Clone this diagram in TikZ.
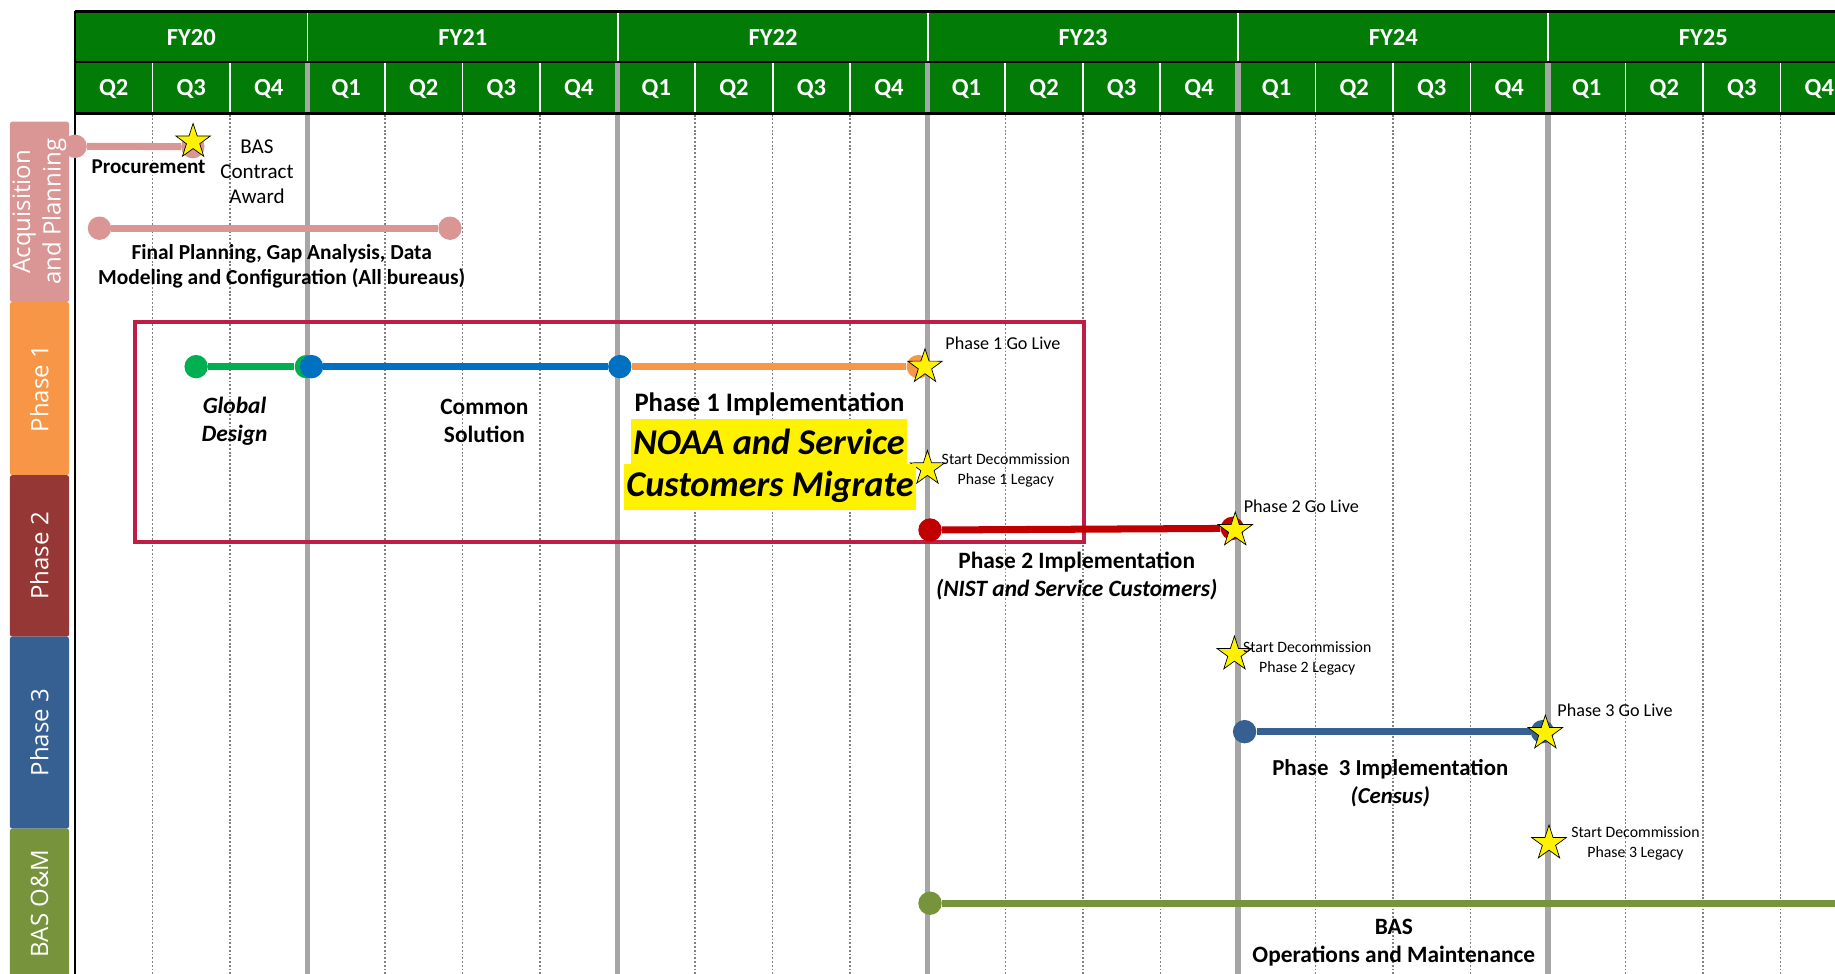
\documentclass[tikz,border=0pt]{standalone}
\usepackage{fontspec}
\setmainfont{Carlito}
\newfontfamily\sidefont{Open Sans}
\usepackage{tikz}
\usetikzlibrary{shapes.geometric}

\definecolor{hdrgreen}{RGB}{3,123,7}
\definecolor{acqpink}{RGB}{217,150,148}
\definecolor{ph1orange}{RGB}{247,150,70}
\definecolor{ph2red}{RGB}{149,55,53}
\definecolor{ph3blue}{RGB}{54,96,146}
\definecolor{omgreen}{RGB}{119,147,60}
\definecolor{gdgreen}{RGB}{0,176,80}
\definecolor{csblue}{RGB}{0,112,192}
\definecolor{p2red}{RGB}{192,0,0}
\definecolor{boxred}{RGB}{190,30,69}
\definecolor{yeargray}{RGB}{166,166,166}
\definecolor{qgray}{RGB}{128,128,128}

\begin{document}
\begin{tikzpicture}[x=1pt,y=-1pt,inner sep=0pt]
  \tikzstyle{endpt}=[circle,minimum size=20pt]
  \tikzstyle{mstar}=[star,star points=5,star point ratio=2.6,minimum size=31pt,
                     fill=yellow,draw=black,line width=0.6pt]
  \tikzstyle{barline}=[line width=6pt]
  \tikzstyle{sidebox}=[rotate=90,minimum height=50.5pt,rounded corners=2pt,align=center,
                       text=white,font=\sidefont\fontsize{20.5}{26}\selectfont]
  \tikzstyle{hdr}=[text=white,font=\bfseries\fontsize{21}{25}\selectfont]
  \tikzstyle{lbl}=[align=center,font=\bfseries\fontsize{20}{24}\selectfont]
  \tikzstyle{golive}=[font=\fontsize{15.5}{19}\selectfont]
  \tikzstyle{decom}=[align=center,font=\fontsize{13.5}{17}\selectfont]
  \tikzstyle{hilite}=[fill=yellow,inner xsep=2pt,minimum height=39pt,
                      font=\bfseries\itshape\fontsize{31}{36}\selectfont]

  \useasboundingbox (0,0) rectangle (1568,832);

  \fill[hdrgreen] (64,10) rectangle (1580,97);
  \foreach \k in {1,...,22}
    \draw[white,line width=1.5pt] (64+66.25*\k,54) -- (64+66.25*\k,96);
  \foreach \k in {3,7,11,15,19}
    \draw[white,line width=1.5pt] (64+66.25*\k,11) -- (64+66.25*\k,53);
  \foreach \k in {1,2,4,5,6,8,9,10,12,13,14,16,17,18,20,21,22}
    \draw[qgray,line width=1.3pt,dash pattern=on 1.6pt off 1.6pt] (64+66.25*\k,98) -- (64+66.25*\k,840);
  \foreach \k in {3,7,11,15,19}
    \draw[yeargray,line width=4.5pt] (64+66.25*\k,53) -- (64+66.25*\k,840);
  \draw[line width=2.5pt] (64,10) -- (1580,10);
  \draw[line width=2pt] (64,53) -- (1580,53);
  \draw[line width=2.5pt] (64,97) -- (1580,97);
  \draw[line width=2pt] (64,9) -- (64,840);

  \foreach \n/\c in {20/163.5,21/395.5,22/660.5,23/925.5,24/1190.5,25/1455.5}
    \node[hdr] (fy\n) at (\c,32) {FY\n};
  \foreach \k in {0,...,22}{
    \pgfmathtruncatemacro\q{mod(\k+1,4)+1}
    \node[hdr] (q\k) at (64+66.25*\k+33.125,76) {Q\q};
  }

  \draw[boxred,line width=3.5pt] (115,275) rectangle (926.6,463);

  \node[endpt,fill=acqpink]   (a0) at (64.2,125)     {};
  \node[endpt,fill=acqpink]   (a1) at (164.8,125.3)  {};
  \node[endpt,fill=acqpink]   (a2) at (85,195)       {};
  \node[endpt,fill=acqpink]   (a3) at (384.5,195)    {};
  \node[endpt,fill=gdgreen]   (g0) at (167.6,313.3)  {};
  \node[endpt,fill=gdgreen]   (g1) at (261.8,313.3)  {};
  \node[endpt,fill=csblue]    (b0) at (266.2,313.3)  {};
  \node[endpt,fill=csblue]    (b1) at (529.6,313.3)  {};
  \node[endpt,fill=ph1orange] (o1) at (784.7,313.3)  {};
  \node[endpt,fill=p2red]     (r0) at (794.7,452.9)  {};
  \node[endpt,fill=p2red]     (r1) at (1053,451.5)   {};
  \node[endpt,fill=ph3blue]   (t0) at (1063.5,625.2) {};
  \node[endpt,fill=ph3blue]   (t1) at (1318,625.2)   {};
  \node[endpt,fill=omgreen]   (m0) at (794.7,771.8)  {};
  \coordinate (m1) at (1580,771.8);

  \path (a0) edge[barline,acqpink]   (a1)
        (a2) edge[barline,acqpink]   (a3)
        (g0) edge[barline,gdgreen]   (g1)
        (b0) edge[barline,csblue]    (b1)
        (b1) edge[barline,ph1orange] (o1)
        (r0) edge[barline,p2red]     (r1)
        (t0) edge[barline,ph3blue]   (t1)
        (m0) edge[barline,omgreen]   (m1);

  \node[mstar] (s0) at (165,121)      {};
  \node[mstar] (s1) at (790.4,313.4)  {};
  \node[mstar] (s2) at (792.5,400.3)  {};
  \node[mstar] (s3) at (1055.5,453)   {};
  \node[mstar] (s4) at (1054.8,559)   {};
  \node[mstar] (s5) at (1320.5,626.5) {};
  \node[mstar] (s6) at (1323.6,720.5) {};

  \node[font=\bfseries\fontsize{18}{22}\selectfont] (pr) at (127,142.4) {Procurement};
  \node[align=center,font=\fontsize{18}{21.5}\selectfont] (aw) at (219.6,147) {BAS\\Contract\\Award};
  \node[align=center,font=\bfseries\fontsize{18.3}{21.5}\selectfont] (fp) at (240.7,227.5)
    {Final Planning, Gap Analysis, Data\\Modeling and Configuration (All bureaus)};
  \node[align=center,font=\bfseries\itshape\fontsize{20}{24}\selectfont] (gd) at (200.4,359.6) {Global\\Design};
  \node[align=center,font=\bfseries\fontsize{20}{24}\selectfont] (cs) at (413.9,359.6) {Common\\Solution};
  \node[font=\bfseries\fontsize{22.8}{26}\selectfont] (p1) at (657.5,345.5) {Phase 1 Implementation};
  \node[hilite] (n1) at (657,377.5) {NOAA and Service};
  \node[hilite] (n2) at (658,416)   {Customers Migrate};
  \node[golive] (l1) at (857,293.4)  {Phase 1 Go Live};
  \node[decom]  (d1) at (859.5,402)  {Start Decommission\\Phase 1 Legacy};
  \node[lbl]    (p2) at (920,492)    {Phase 2 Implementation\\\textit{(NIST and Service Customers)}};
  \node[golive] (l2) at (1112,433)   {Phase 2 Go Live};
  \node[decom]  (d2) at (1117,562.5) {Start Decommission\\Phase 2 Legacy};
  \node[golive] (l3) at (1380,606.7) {Phase 3 Go Live};
  \node[lbl,font=\bfseries\fontsize{19.5}{24}\selectfont] (p3) at (1188,669.5)
    {Phase~~3 Implementation\\\textit{(Census)}};
  \node[decom]  (d3) at (1397.5,720.5) {Start Decommission\\Phase 3 Legacy};
  \node[lbl]    (om) at (1191,805.5)   {BAS\\Operations and Maintenance};

  \node[sidebox,fill=acqpink,minimum width=154pt]   (ap) at (33.75,181) {Acquisition\\and Planning};
  \node[sidebox,fill=ph1orange,minimum width=148pt] (x1) at (33.75,332) {Phase 1};
  \node[sidebox,fill=ph2red,minimum width=138pt]    (x2) at (33.75,475) {Phase 2};
  \node[sidebox,fill=ph3blue,minimum width=164pt]   (x3) at (33.75,626) {Phase 3};
  \node[sidebox,fill=omgreen,minimum width=128pt]   (x4) at (33.75,772) {BAS O\&M};
\end{tikzpicture}
\end{document}
